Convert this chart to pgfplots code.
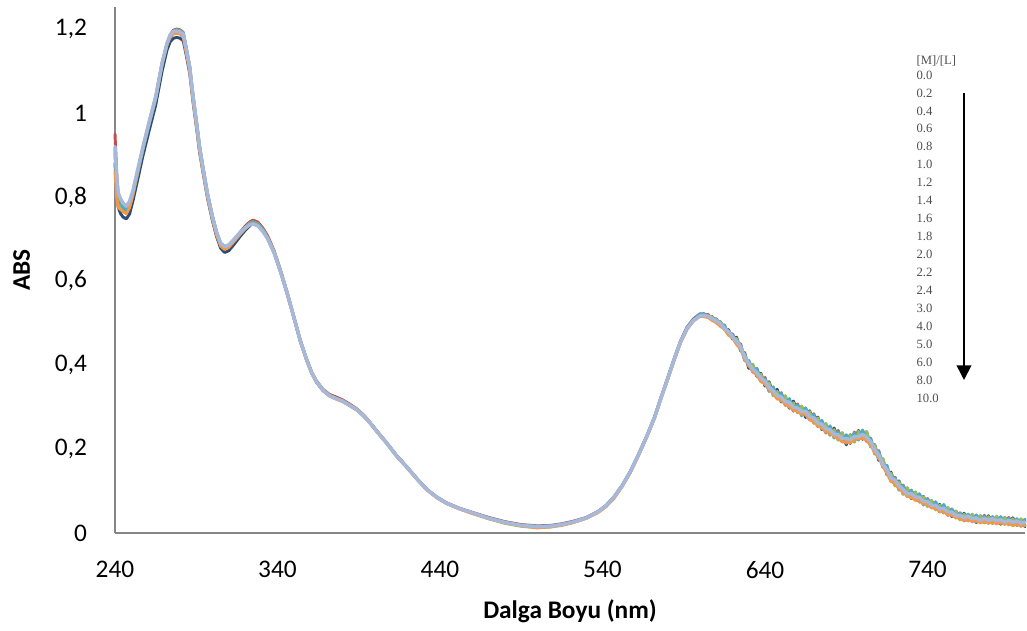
\documentclass[border=0pt]{standalone}
\usepackage{fontspec}
\setmainfont{Carlito}
\newfontfamily\legfont{Liberation Serif}
\usepackage{pgfplots}
\usepackage{pgfplotstable}
\pgfplotsset{compat=1.18}
\usetikzlibrary{arrows.meta}
\definecolor{sA}{HTML}{2C4D75}
\definecolor{sB}{HTML}{C0504D}
\definecolor{sC}{HTML}{9BBB59}
\definecolor{sD}{HTML}{4BACC6}
\definecolor{sE}{HTML}{F79646}
\definecolor{sF}{HTML}{A6B9DB}
\definecolor{axgray}{HTML}{868686}
\definecolor{leggray}{HTML}{4D4D4D}
\pgfplotstableread{
l c1 c2 c3 c4 c5 c6
240 0.88 0.95 0.90 0.91 0.86 0.92
241 0.81 0.86 0.83 0.84 0.80 0.85
242 0.775 0.80 0.79 0.80 0.775 0.81
243.5 0.760 0.785 0.780 0.785 0.770 0.795
245 0.752 0.775 0.770 0.775 0.765 0.785
247 0.748 0.768 0.765 0.768 0.760 0.778
249 0.760 0.780 0.778 0.780 0.775 0.790
251 0.790 0.808 0.806 0.808 0.805 0.815
254 0.842 0.860 0.858 0.860 0.862 0.866
257 0.895 0.912 0.910 0.912 0.916 0.916
261 0.958 0.975 0.973 0.975 0.980 0.978
265 1.018 1.035 1.033 1.035 1.040 1.037
269 1.100 1.118 1.116 1.118 1.120 1.119
272 1.150 1.165 1.163 1.165 1.163 1.166
274 1.170 1.187 1.185 1.185 1.180 1.186
276 1.178 1.197 1.195 1.195 1.188 1.194
278 1.180 1.200 1.198 1.197 1.190 1.195
280 1.178 1.198 1.196 1.195 1.188 1.193
282 1.172 1.192 1.190 1.190 1.180 1.188
284 1.135 1.152 1.150 1.150 1.140 1.150
286 1.094 1.110 1.108 1.108 1.098 1.108
288 1.027 1.042 1.040 1.040 1.030 1.040
290.5 0.955 0.969 0.967 0.967 0.958 0.967
292 0.908 0.922 0.920 0.920 0.911 0.920
294 0.862 0.874 0.872 0.872 0.864 0.872
297 0.796 0.807 0.805 0.805 0.798 0.805
300 0.743 0.754 0.752 0.752 0.746 0.752
302.5 0.706 0.717 0.715 0.715 0.709 0.716
305 0.678 0.690 0.688 0.688 0.683 0.690
307.5 0.668 0.681 0.679 0.679 0.675 0.682
310 0.672 0.685 0.683 0.683 0.680 0.686
313 0.686 0.698 0.696 0.696 0.693 0.698
317 0.706 0.716 0.714 0.714 0.711 0.715
320 0.720 0.730 0.727 0.727 0.724 0.726
323 0.732 0.741 0.738 0.737 0.734 0.734
325 0.737 0.745 0.741 0.740 0.737 0.736
328 0.733 0.740 0.736 0.735 0.732 0.731
331 0.720 0.726 0.723 0.722 0.719 0.718
334 0.701 0.707 0.704 0.703 0.701 0.700
338 0.666 0.671 0.669 0.668 0.667 0.666
342 0.620 0.624 0.622 0.622 0.621 0.621
346 0.569 0.572 0.570 0.570 0.569 0.570
350 0.514 0.516 0.515 0.515 0.514 0.515
354 0.457 0.459 0.458 0.458 0.457 0.458
358 0.411 0.413 0.412 0.412 0.411 0.412
361 0.381 0.383 0.382 0.382 0.381 0.382
364 0.359 0.362 0.360 0.360 0.359 0.360
368 0.339 0.342 0.341 0.340 0.339 0.340
372 0.327 0.330 0.328 0.327 0.326 0.327
376 0.320 0.324 0.321 0.320 0.319 0.320
380 0.314 0.317 0.315 0.314 0.313 0.314
384 0.305 0.308 0.306 0.305 0.304 0.305
389 0.293 0.295 0.294 0.293 0.292 0.293
393 0.279 0.281 0.280 0.279 0.278 0.279
397 0.262 0.263 0.262 0.262 0.261 0.262
402 0.238 0.239 0.238 0.238 0.237 0.238
407 0.215 0.216 0.215 0.215 0.214 0.215
413 0.185 0.186 0.185 0.185 0.184 0.185
420 0.155 0.156 0.155 0.155 0.154 0.155
426 0.128 0.129 0.128 0.128 0.127 0.128
432 0.103 0.104 0.103 0.103 0.102 0.103
438 0.085 0.086 0.085 0.085 0.084 0.085
444 0.071 0.072 0.071 0.071 0.070 0.071
452 0.058 0.059 0.058 0.058 0.057 0.058
460 0.048 0.049 0.047 0.048 0.046 0.048
470 0.035 0.037 0.034 0.036 0.034 0.035
480 0.025 0.027 0.023 0.026 0.024 0.025
490 0.018 0.020 0.016 0.019 0.017 0.018
500 0.014 0.017 0.013 0.016 0.012 0.015
508 0.016 0.018 0.014 0.017 0.015 0.016
515 0.020 0.022 0.019 0.021 0.018 0.020
522 0.026 0.028 0.025 0.027 0.025 0.026
530 0.036 0.037 0.035 0.036 0.035 0.036
537 0.050 0.051 0.049 0.050 0.048 0.050
542 0.064 0.065 0.063 0.064 0.062 0.064
547 0.085 0.086 0.084 0.085 0.082 0.085
552 0.112 0.113 0.111 0.112 0.110 0.112
557 0.145 0.146 0.144 0.145 0.143 0.145
562 0.185 0.186 0.184 0.185 0.183 0.185
567 0.228 0.229 0.227 0.228 0.226 0.228
572 0.275 0.276 0.274 0.275 0.273 0.275
576 0.322 0.323 0.321 0.322 0.320 0.322
580 0.366 0.368 0.365 0.367 0.364 0.366
584 0.412 0.414 0.411 0.413 0.410 0.412
588 0.455 0.457 0.454 0.456 0.453 0.455
592 0.487 0.490 0.486 0.489 0.485 0.487
596 0.507 0.510 0.506 0.508 0.505 0.506
600 0.520 0.522 0.518 0.521 0.516 0.517
602.5 0.522 0.519 0.517 0.521 0.515 0.518
605 0.514 0.520 0.517 0.513 0.513 0.516
607.5 0.515 0.509 0.514 0.511 0.506 0.510
610 0.502 0.510 0.504 0.508 0.501 0.506
612.5 0.503 0.495 0.502 0.496 0.492 0.498
615 0.485 0.495 0.487 0.494 0.486 0.488
617.5 0.484 0.473 0.481 0.474 0.471 0.479
620 0.462 0.474 0.464 0.473 0.465 0.467
622.5 0.466 0.452 0.463 0.451 0.449 0.456
625 0.434 0.450 0.437 0.449 0.438 0.443
627.5 0.429 0.412 0.426 0.410 0.414 0.419
630 0.392 0.410 0.397 0.411 0.400 0.404
632.5 0.399 0.383 0.402 0.386 0.384 0.390
635 0.373 0.391 0.374 0.392 0.377 0.382
637.5 0.380 0.363 0.378 0.361 0.360 0.368
640 0.350 0.370 0.353 0.367 0.356 0.362
642.5 0.360 0.339 0.358 0.337 0.342 0.347
645 0.332 0.347 0.327 0.348 0.333 0.339
647.5 0.342 0.322 0.337 0.321 0.319 0.327
650 0.312 0.334 0.314 0.333 0.318 0.324
652.5 0.324 0.304 0.327 0.307 0.306 0.313
655 0.297 0.316 0.299 0.320 0.302 0.311
657.5 0.314 0.290 0.310 0.292 0.292 0.299
660 0.288 0.307 0.286 0.305 0.291 0.298
662.5 0.301 0.282 0.302 0.279 0.283 0.289
665 0.275 0.297 0.280 0.298 0.283 0.290
667.5 0.291 0.270 0.289 0.272 0.269 0.277
670 0.263 0.284 0.261 0.282 0.266 0.274
672.5 0.276 0.256 0.274 0.253 0.255 0.262
675 0.246 0.267 0.248 0.268 0.251 0.259
677.5 0.259 0.238 0.261 0.241 0.240 0.248
680 0.233 0.253 0.234 0.255 0.240 0.246
682.5 0.250 0.228 0.246 0.226 0.230 0.235
685 0.223 0.244 0.221 0.241 0.226 0.234
687.5 0.238 0.218 0.239 0.217 0.217 0.225
690 0.210 0.232 0.214 0.234 0.217 0.225
692.5 0.234 0.213 0.233 0.215 0.215 0.222
695 0.220 0.240 0.216 0.238 0.224 0.230
697.5 0.244 0.223 0.242 0.221 0.224 0.229
700 0.223 0.244 0.224 0.245 0.227 0.235
702.5 0.241 0.218 0.242 0.222 0.220 0.228
705 0.206 0.225 0.205 0.226 0.210 0.218
707.5 0.210 0.192 0.209 0.188 0.191 0.198
710 0.173 0.196 0.176 0.194 0.180 0.186
712.5 0.176 0.157 0.178 0.158 0.159 0.164
715 0.139 0.160 0.140 0.161 0.143 0.151
717.5 0.145 0.124 0.143 0.123 0.123 0.131
720 0.115 0.133 0.112 0.132 0.118 0.126
722.5 0.124 0.103 0.122 0.102 0.105 0.112
725 0.093 0.114 0.092 0.113 0.098 0.104
727.5 0.107 0.088 0.108 0.087 0.088 0.093
730 0.082 0.102 0.083 0.102 0.086 0.094
732.5 0.097 0.079 0.098 0.080 0.078 0.086
735 0.074 0.093 0.074 0.093 0.077 0.085
737.5 0.087 0.067 0.086 0.067 0.069 0.075
740 0.064 0.082 0.063 0.081 0.069 0.075
742.5 0.077 0.061 0.077 0.060 0.060 0.066
745 0.057 0.074 0.055 0.074 0.059 0.066
747.5 0.068 0.050 0.066 0.051 0.051 0.057
750 0.048 0.064 0.048 0.068 0.052 0.059
752.5 0.059 0.042 0.061 0.045 0.043 0.050
755 0.039 0.057 0.041 0.057 0.043 0.050
757.5 0.052 0.037 0.052 0.036 0.036 0.041
760 0.033 0.048 0.031 0.047 0.036 0.042
762.5 0.047 0.030 0.045 0.029 0.029 0.036
765 0.029 0.044 0.029 0.045 0.032 0.040
767.5 0.043 0.027 0.045 0.029 0.028 0.034
770 0.025 0.042 0.027 0.043 0.030 0.036
772.5 0.041 0.026 0.041 0.025 0.024 0.030
775 0.026 0.042 0.024 0.040 0.028 0.035
777.5 0.041 0.024 0.039 0.023 0.024 0.030
780 0.023 0.038 0.023 0.039 0.027 0.034
782.5 0.038 0.022 0.040 0.024 0.022 0.029
785 0.021 0.038 0.023 0.039 0.025 0.032
787.5 0.037 0.022 0.037 0.021 0.021 0.026
790 0.021 0.037 0.019 0.035 0.024 0.030
792.5 0.036 0.019 0.034 0.018 0.018 0.025
795 0.018 0.033 0.018 0.034 0.021 0.029
797.5 0.032 0.016 0.034 0.018 0.017 0.023
800 0.015 0.032 0.017 0.033 0.020 0.026
}\spectra
\begin{document}
\begin{tikzpicture}
\useasboundingbox (-86.25pt,-73.5pt) rectangle (684pt,399.75pt);
\begin{axis}[
  at={(0,0)}, anchor=south west,
  scale only axis,
  width=682.5pt, height=394.5pt,
  xmin=240, xmax=800, ymin=0, ymax=1.2524,
  axis x line=bottom, axis y line=left,
  axis line style={-, draw=axgray, line width=1.1pt},
  major tick length=0pt,
  xtick={240,340,440,540,640,740},
  ytick={0,0.2,0.4,0.6,0.8,1,1.2},
  yticklabels={0,{0,2},{0,4},{0,6},{0,8},1,{1,2}},
  /pgf/number format/assume math mode=true,
  tick label style={font=\fontsize{19}{23}\selectfont, text=black},
  xticklabel style={yshift=-17.5pt},
  yticklabel style={xshift=-17.5pt},
  clip=false,
  every axis plot/.append style={line width=2.2pt, line join=round, line cap=round},
]
\addplot[sA] table[x=l,y=c1]{\spectra};
\addplot[sB] table[x=l,y=c2]{\spectra};
\addplot[sC] table[x=l,y=c3]{\spectra};
\addplot[sD] table[x=l,y=c4]{\spectra};
\addplot[sE] table[x=l,y=c5]{\spectra};
\addplot[sF, line width=2.6pt] table[x=l,y=c6]{\spectra};
\end{axis}
\node[font=\fontsize{19}{23}\selectfont\bfseries] at (341.25pt,-59pt) {Dalga Boyu (nm)};
\node[font=\fontsize{19}{23}\selectfont\bfseries, rotate=90] at (-70pt,197.25pt) {ABS};
\begin{scope}[every node/.style={anchor=west, inner sep=0pt, font=\legfont\fontsize{9.5}{11}\selectfont, text=leggray}]
\node at (601pt,354pt) {[M]/[L]};
\foreach \t [count=\i from 0] in {0.0,0.2,0.4,0.6,0.8,1.0,1.2,1.4,1.6,1.8,2.0,2.2,2.4,3.0,4.0,5.0,6.0,8.0,10.0}{
  \node at (601pt,{343.5pt-\i*13.46pt}) {\t};
}
\end{scope}
\draw[line width=1.3pt, -{Triangle[width=11pt,length=11pt]}] (636.75pt,330pt) -- (636.75pt,114.75pt);
\end{tikzpicture}
\end{document}
